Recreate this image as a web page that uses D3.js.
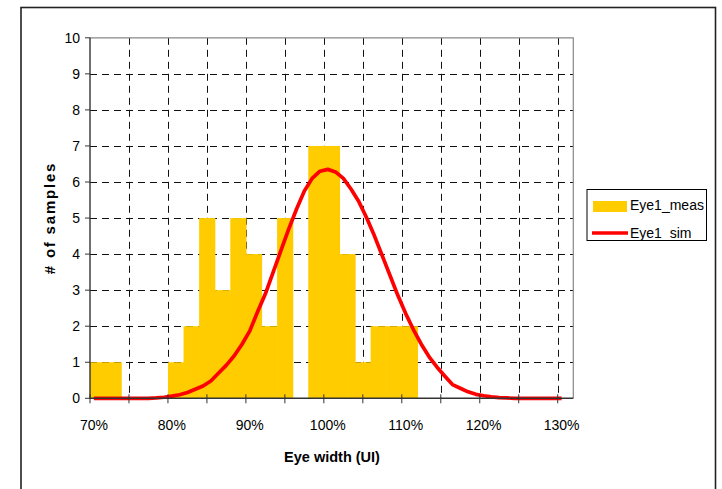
<!DOCTYPE html>
<html>
<head>
<meta charset="utf-8">
<script src="https://cdn.jsdelivr.net/npm/d3@7"></script>
<style>
  body { margin: 0; background: #fff; }
  svg { display: block; font-family: "Liberation Sans", Arial, sans-serif; }
</style>
</head>
<body>
<svg width="722" height="489"></svg>
<script>
// eye width categories, 1% steps, 70% .. 131%
let categories = [70,71,72,73,74,75,76,77,78,79,80,81,82,83,84,85,86,87,88,89,
                  90,91,92,93,94,95,96,97,98,99,100,101,102,103,104,105,106,107,108,109,
                  110,111,112,113,114,115,116,117,118,119,120,121,122,123,124,125,126,127,128,129,
                  130,131];
// measured counts per category
let eyeMeas = [1,1,1,1,0,0,0,0,0,0,1,1,2,2,5,5,3,3,5,5,
               4,4,2,2,5,5,0,0,7,7,7,7,4,4,1,1,2,2,2,2,
               2,2,0,0,0,0,0,0,0,0,0,0,0,0,0,0,0,0,0,0,
               0,0];
// simulated curve (no point at 131%)
let eyeSim = [0,0,0,0,0,0,0,0,0.01,0.03,0.06,0.1,0.16,0.25,0.34,0.48,0.7,0.92,1.18,1.5,
              1.87,2.4,2.9,3.5,4.1,4.7,5.25,5.75,6.1,6.3,6.35,6.28,6.1,5.8,5.45,5.0,4.5,3.95,3.4,2.85,
              2.35,1.9,1.5,1.15,0.87,0.62,0.38,0.28,0.18,0.11,0.07,0.04,0.02,0.01,0,0,0,0,0,0,
              0,null];
let yTicks = [0,1,2,3,4,5,6,7,8,9,10];
let xLabelCats = [70,80,90,100,110,120,130];

let pxL = 90, pxR = 573.3, pxT = 37.8, pxB = 398.3;

let svg = d3.select("svg");

// outer chart border
svg.append("rect")
   .attr("x", 21).attr("y", 7.5).attr("width", 694.5).attr("height", 500)
   .attr("fill", "none").attr("stroke", "#222").attr("stroke-width", 1.6);

let scX = d3.scaleBand().domain(categories).range([pxL, pxR]).padding(0);
let scY = d3.scaleLinear().domain([0, 10]).range([pxB, pxT]);
let bw = scX.bandwidth();

// grid
let grid = svg.append("g").attr("stroke", "#111").attr("stroke-width", 1)
              .attr("stroke-dasharray", "7,5");
grid.selectAll("line.h")
    .data(yTicks.filter(d => d > 0 && d < 10))
    .enter().append("line")
    .attr("x1", pxL).attr("x2", pxR)
    .attr("y1", d => Math.round(scY(d)) + 0.5).attr("y2", d => Math.round(scY(d)) + 0.5);
let gridCats = categories.filter((c, i) => i > 0 && i % 5 == 0);
grid.selectAll("line.v")
    .data(gridCats)
    .enter().append("line")
    .attr("x1", d => Math.round(scX(d)) + 0.5).attr("x2", d => Math.round(scX(d)) + 0.5)
    .attr("y1", pxT).attr("y2", pxB);

// plot area border (top/right)
svg.append("path")
   .attr("d", `M${pxL},${pxT}H${pxR}V${pxB}`)
   .attr("fill", "none").attr("stroke", "#888").attr("stroke-width", 1.2);

// bars
svg.append("g").attr("fill", "#ffcc00")
   .selectAll("rect")
   .data(categories.map((c, i) => ({c: c, v: eyeMeas[i]})).filter(d => d.v > 0))
   .enter().append("rect")
   .attr("x", d => scX(d.c)).attr("width", bw + 0.6)
   .attr("y", d => scY(d.v)).attr("height", d => scY(0) - scY(d.v));

// simulated line
let lineMaker = d3.line()
                  .defined(d => d.v != null)
                  .x(d => scX(d.c) + bw / 2)
                  .y(d => scY(d.v));
svg.append("path")
   .attr("fill", "none").attr("stroke", "#ff0000").attr("stroke-width", 3.7)
   .attr("stroke-linejoin", "round")
   .attr("d", lineMaker(categories.map((c, i) => ({c: c, v: eyeSim[i]}))));

// y axis
let gy = svg.append("g");
gy.append("line").attr("x1", pxL).attr("x2", pxL).attr("y1", pxT).attr("y2", pxB)
  .attr("stroke", "#333").attr("stroke-width", 1.4);
gy.selectAll("line.t").data(yTicks).enter().append("line")
  .attr("x1", pxL - 5).attr("x2", pxL)
  .attr("y1", d => scY(d)).attr("y2", d => scY(d))
  .attr("stroke", "#333");
gy.selectAll("text").data(yTicks).enter().append("text")
  .attr("x", 80).attr("y", d => scY(d) + 5)
  .attr("text-anchor", "end").attr("font-size", 14)
  .text(d => d);

// x axis
let gx = svg.append("g");
gx.append("line").attr("x1", pxL).attr("x2", pxR).attr("y1", pxB).attr("y2", pxB)
  .attr("stroke", "#333").attr("stroke-width", 1.4);
let tickCats = categories.filter((c, i) => i % 5 == 0);
gx.selectAll("line.t").data(tickCats).enter().append("line")
  .attr("x1", d => scX(d)).attr("x2", d => scX(d))
  .attr("y1", pxB - 4).attr("y2", pxB + 5)
  .attr("stroke", "#333");
gx.selectAll("text").data(xLabelCats).enter().append("text")
  .attr("x", d => scX(d) + bw / 2).attr("y", 430)
  .attr("text-anchor", "middle").attr("font-size", 14)
  .text(d => d + "%");

// axis titles
svg.append("text")
   .attr("x", 332).attr("y", 462)
   .attr("text-anchor", "middle").attr("font-size", 14.5).attr("font-weight", "bold")
   .text("Eye width (UI)");
svg.append("text")
   .attr("transform", "translate(55,218) rotate(-90)")
   .attr("text-anchor", "middle").attr("font-size", 15).attr("font-weight", "bold")
   .attr("letter-spacing", 1.8)
   .text("# of samples");

// legend
let lg = svg.append("g");
lg.append("rect").attr("x", 587).attr("y", 189.5).attr("width", 119.5).attr("height", 51)
  .attr("fill", "#fff").attr("stroke", "#000").attr("stroke-width", 1);
lg.append("rect").attr("x", 593).attr("y", 201).attr("width", 34).attr("height", 11)
  .attr("fill", "#ffcc00");
lg.append("line").attr("x1", 592).attr("x2", 628).attr("y1", 233).attr("y2", 233)
  .attr("stroke", "#ff0000").attr("stroke-width", 3.7);
lg.append("text").attr("x", 630).attr("y", 210).attr("font-size", 14).text("Eye1_meas");
lg.append("text").attr("x", 630).attr("y", 238).attr("font-size", 14).text("Eye1_sim");
</script>
</body>
</html>
